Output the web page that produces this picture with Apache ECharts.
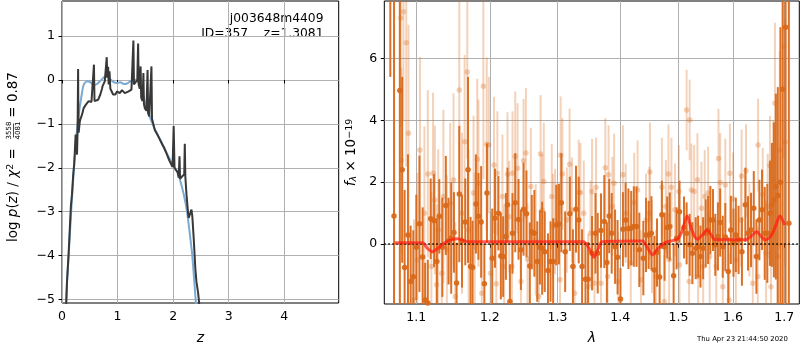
<!DOCTYPE html>
<html><head><meta charset="utf-8">
<script src="https://cdn.jsdelivr.net/npm/echarts@6/dist/echarts.min.js"></script>
<style>html,body{margin:0;padding:0;background:#fff}#c{width:800px;height:350px}</style>
</head><body><div id="c"></div>
<script>
// ---------- Left panel: log p(z) ----------
const blueZ = [0.065,0.09,0.12,0.16,0.20,0.25,0.30,0.35,0.39,0.45,0.51,0.57,0.63,0.69,0.77,0.81,0.87,0.93,0.99,1.05,1.11,1.17,1.23,1.30,1.36,1.42,1.48,1.54,1.60,1.66,1.72,1.78,1.84,1.90,1.96,2.02,2.08,2.13,2.19,2.25,2.30,2.345,2.405,2.43];
const blueLogP = [-5.4,-4.6,-4.0,-3.1,-2.3,-1.4,-0.8,-0.37,-0.11,-0.03,-0.05,-0.12,-0.09,-0.02,0.08,0.10,0.02,-0.05,-0.07,-0.05,-0.09,-0.08,-0.03,0.01,-0.03,-0.18,-0.45,-0.71,-0.90,-1.09,-1.24,-1.39,-1.55,-1.70,-1.85,-1.98,-2.10,-2.30,-2.6,-3.0,-3.5,-4.0,-5.0,-5.4];
const grayZ = [0.07,0.09,0.12,0.14,0.16,0.18,0.20,0.22,0.23,0.245,0.26,0.27,0.28,0.29,0.295,0.30,0.32,0.33,0.36,0.39,0.43,0.48,0.53,0.565,0.575,0.585,0.62,0.65,0.69,0.72,0.73,0.75,0.77,0.79,0.805,0.815,0.83,0.84,0.855,0.87,0.89,0.92,0.96,0.99,1.02,1.04,1.08,1.11,1.13,1.16,1.20,1.25,1.27,1.285,1.295,1.31,1.33,1.355,1.37,1.38,1.40,1.415,1.425,1.45,1.465,1.475,1.49,1.52,1.54,1.55,1.57,1.60,1.61,1.62,1.64,1.67,1.72,1.75,1.81,1.84,1.87,1.93,1.99,2.01,2.025,2.05,2.08,2.10,2.115,2.125,2.14,2.16,2.20,2.21,2.22,2.24,2.27,2.28,2.31,2.33,2.345,2.37,2.40,2.42,2.435,2.45,2.47,2.50];
const grayLogP = [-5.3,-4.6,-3.93,-3.4,-2.87,-2.6,-2.19,-1.9,-1.66,-1.24,-1.3,-1.7,-1.2,0.25,-1.0,-1.2,-0.95,-0.9,-0.79,-0.64,-0.56,-0.48,-0.5,-0.48,0.35,-0.48,-0.47,-0.45,-0.33,-0.2,-0.14,-0.1,-0.03,0.0,0.52,0.05,0.3,-0.1,0.2,-0.2,-0.25,-0.33,-0.33,-0.26,-0.3,-0.3,-0.23,-0.2,-0.3,-0.3,-0.26,-0.22,-0.2,0.9,-0.1,-0.14,-0.08,0.0,0.83,-0.1,-0.2,0.31,-0.4,-0.48,0.16,-0.55,-0.64,-0.7,0.23,-0.75,-0.83,-0.85,0.31,-0.88,-0.9,-1.14,-1.25,-1.33,-1.48,-1.55,-1.64,-1.83,-1.98,-1.05,-2.0,-2.05,-2.1,-2.22,-1.74,-2.25,-2.27,-2.2,-2.15,-1.45,-2.2,-2.6,-3.05,-3.14,-3.1,-2.95,-3.1,-3.6,-4.3,-4.6,-4.62,-4.85,-5.1,-5.3];
const leftXTicks = [0,1,2,3,4];
const leftYTicks = [-5,-4,-3,-2,-1,0,1];

// ---------- Right panel: spectrum ----------
const darkLam = [1.0667,1.0714,1.0788,1.0818,1.0849,1.0892,1.0927,1.0961,1.1000,1.1041,1.1083,1.1116,1.1151,1.1189,1.1234,1.1271,1.1303,1.1344,1.1391,1.1427,1.1464,1.1501,1.1537,1.1574,1.1611,1.1656,1.1694,1.1729,1.1757,1.1804,1.1839,1.1877,1.1922,1.1959,
 1.2034,1.2073,1.2122,1.2157,1.2190,1.2230,1.2253,1.2288,1.2326,1.2366,1.2414,1.2449,1.2488,1.2531,1.2581,1.2610,1.2649,1.2692,1.2732,1.2766,1.2805,1.2854,1.2893,1.2933,1.2981,1.3022,1.3059,1.3118,1.3191,1.3239,1.3287,1.3330,1.3383,1.3437,1.3479,1.3542,
 1.3597,1.3633,1.3686,1.3740,1.3782,1.3820,1.3861,1.3916,1.3957,1.4005,1.4046,1.4091,1.4137,1.4184,1.4228,1.4274,1.4321,1.4389,1.4434,1.4480,1.4527,1.4578,1.4623,1.4669,1.4708,1.4755,1.4801,1.4846,1.4914,1.4966,1.5018,1.5098,1.5145,1.5200,1.5249,1.5309,
 1.5353,1.5395,1.5444,1.5491,1.5535,1.5576,1.5625,1.5667,1.5716,1.5758,1.5807,1.5854,1.5909,1.5958,1.6008,1.6053,1.6105,1.6169,1.6234,1.6286,1.6344,1.6397,1.6448,1.6506,1.6558,1.6611,1.6662,1.6714,1.6753,1.6792,1.6831,1.6870,1.6922,1.6967,1.7026,1.7092];
const darkFlux = [9.5,0.91,4.96,2.4,-0.75,0.3,-1.2,-1.05,-0.1,0.66,-0.41,-1.8,-1.9,0.82,0.76,-0.56,0.9,-0.1,1.25,0.1,0.2,0.38,-1.25,1.62,0.1,0.72,2.4,-0.72,-0.74,1.3,0.9,0.72,-1.28,1.65,
 -0.45,0.84,1.0,-0.38,-0.4,0.25,1.27,-1.85,0.35,1.34,0.8,-0.18,1.13,0.98,-0.7,0.39,0.35,-0.56,-0.1,-0.13,-0.24,-0.85,-0.56,-0.56,0.62,0.65,1.34,-0.24,0.98,-0.72,1.13,0.78,-0.72,-1.13,-1.13,-0.29,
 0.35,-0.29,0.44,0.73,-0.59,0.91,0.35,-0.08,-0.42,-1.77,0.48,0.78,0.5,0.52,0.57,0.57,-0.18,-0.45,0.3,0.3,0.35,-0.83,-0.27,-1.06,0.95,-0.08,0.54,0.57,-1.02,0.19,1.05,0.54,0.35,-0.02,-0.29,-0.13,
 -0.08,-0.4,-0.13,0.35,0.46,0.78,0.78,-0.02,0.25,0.7,-0.08,0.23,-0.88,0.46,0.05,0.3,0.14,-0.24,1.27,0.35,0.46,1.16,-0.4,0.78,1.11,0.35,0.35,1.0,1.27,1.43,1.86,1.57,2.0,5.0,7.0,0.68];
const darkErr = [4.1,9,7,3.0,2.5,2.6,1.8,1.5,1.7,2.2,1.6,1.2,1.4,1.3,1.5,1.4,1.2,1.6,1.6,1.4,1.8,1.3,1.3,2.2,1.5,1.4,3.0,1.6,1.5,1.6,1.4,1.8,1.3,1.6,
 1.6,1.6,1.2,1.4,1.3,1.4,1.2,1.2,1.3,1.6,1.3,1.3,1.5,1.4,1.4,1.2,1.4,1.3,1.2,1.5,1.3,1.2,1.3,1.4,1.3,1.3,1.6,1.3,1.2,1.2,1.4,1.4,1.2,1.2,1.2,1.2,
 1.3,1.3,1.2,1.5,1.3,1.2,1.3,1.2,1.2,1.0,1.2,1.2,1.3,1.2,1.3,1.3,1.2,1.2,1.2,1.1,1.2,1.1,1.1,1.1,1.1,1.1,1.0,1.1,1.0,1.0,1.0,1.0,1.0,1.0,1.0,1.0,
 1.0,1.0,1.0,1.1,1.1,1.1,1.0,1.0,1.1,1.1,1.0,1.1,1.1,1.1,1.1,1.2,1.1,1.1,1.2,1.2,1.2,1.2,1.2,1.3,1.3,1.5,1.6,1.7,2.0,2.5,3.0,3.5,5,8,12,12];

const lightLam = [1.0801,1.0808,1.0834,1.0870,1.0899,1.0970,1.1014,1.1047,1.1106,1.1151,1.1198,1.1220,1.1244,1.1267,1.1289,1.1336,1.1358,1.1405,1.1450,1.1495,1.1519,1.1574,1.1611,1.1647,1.1684,1.1702,1.1771,1.1787,1.1822,1.1839,1.1886,1.1908,1.1955,
 1.1986,1.2010,1.2059,1.2092,1.2107,1.2180,1.2205,1.2253,1.2278,1.2318,1.2326,1.2366,1.2400,1.2449,1.2488,1.2523,1.2546,1.2596,1.2669,1.2717,1.2742,1.2766,1.2791,1.2912,1.2930,1.2962,1.3038,1.3048,1.3075,1.3144,1.3187,1.3223,1.3266,1.3330,1.3357,1.3410,1.3479,1.3517,1.3542,
 1.3581,1.3606,1.3686,1.3756,1.3793,1.3809,1.3872,1.3900,1.3968,1.4046,1.4091,1.4177,1.4235,1.4292,1.4348,1.4434,1.4492,1.4502,1.4537,1.4605,1.4708,1.4749,1.4777,1.4823,1.4835,1.4875,1.4938,1.5007,1.5018,1.5145,1.5189,1.5200,1.5231,1.5280,1.5340,
 1.5353,1.5413,1.5444,1.5473,1.5535,1.5564,1.5685,1.5727,1.5758,1.5807,1.5854,1.5927,1.5940,1.6000,1.6053,1.6150,1.6163,1.6247,1.6311,1.6378,1.6475,1.6481,1.6572,1.6637,1.6669,1.6714,1.6734,1.6779,1.6812,1.6864,1.6909,1.6992,1.7016];
const lightFlux = [7.3,2.7,7.5,6.5,3.58,-1.8,-0.5,3.04,1.0,2.27,-0.72,2.29,1.43,-1.31,0.46,-0.94,1.54,-0.18,1.32,2.07,-1.69,4.98,1.0,3.31,5.56,0.46,1.65,-0.08,2.74,1.97,-1.58,5.1,3.23,
 3.2,-0.94,2.56,-1.28,2.29,1.54,-0.72,2.26,0.89,-0.72,2.29,2.83,2.45,-1.2,2.69,2.94,-0.48,1.86,0.14,-1.69,2.91,1.1,2.02,1.54,0.57,0.73,-1.15,2.87,2.27,0.78,2.58,1.1,-1.58,1.67,1.67,1.0,-1.37,0.35,1.7,
 -1.26,1.84,-1.26,2.47,-1.04,2.24,1.22,1.97,-1.2,2.24,1.0,-0.61,1.35,1.75,-1.15,0.78,1.0,2.33,-0.08,-1.04,1.84,-1.85,1.22,2.27,-0.5,1.84,1.11,1.7,-0.67,4.33,-1.2,4.01,1.75,1.7,2.08,
 -1.04,1.16,-0.72,1.54,1.65,-0.4,-0.72,2.77,1.99,-1.37,1.91,-1.8,2.29,1.46,-0.5,0.78,2.2,2.37,0.46,-1.26,-1.04,3.2,1.61,-0.29,1.22,2.54,-1.37,2.08,4.55,-0.4,3.04,6.38,3.3];
const lightErr = [3.5,3.0,3.5,4.0,3.5,2.6,2.8,3.0,2.8,2.7,2.4,2.6,2.4,2.6,2.6,2.4,2.8,2.4,2.6,2.8,2.4,3.0,2.6,2.8,2.8,2.6,2.5,2.4,2.6,2.7,2.4,3.0,2.8,
 2.2,2.0,2.2,2.0,2.0,2.0,2.0,2.0,1.8,2.0,2.0,2.1,2.1,1.9,2.0,2.1,1.8,1.9,1.8,1.8,1.9,1.8,1.9,1.7,1.7,1.7,1.7,1.9,1.8,1.7,1.8,1.7,1.7,1.7,1.6,1.7,1.7,1.7,1.7,
 1.7,1.6,1.6,1.6,1.6,1.6,1.6,1.6,1.6,1.6,1.6,1.6,1.6,1.6,1.6,1.5,1.5,1.6,1.5,1.5,1.6,1.5,1.5,1.6,1.5,1.6,1.5,1.5,1.5,1.3,1.5,1.3,1.5,1.5,1.5,
 1.5,1.5,1.5,1.5,1.5,1.5,1.5,1.6,1.6,1.5,1.5,1.5,1.6,1.5,1.5,1.5,1.5,1.5,1.5,1.5,1.6,1.5,1.5,1.7,1.7,1.6,1.9,1.9,2.6,2.2,3.2,3.6,4.0];

const modelLam = [1.0723,1.108,1.114,1.121,1.128,1.136,1.146,1.1556,1.163,1.1694,1.34,1.35,1.3574,1.364,1.3708,1.4372,1.446,1.4544,1.462,1.4772,1.4972,1.506,1.5153,1.524,1.5335,1.543,1.5516,1.559,1.5667,1.6228,1.634,1.6455,1.654,1.6617,1.6747,1.684,1.6909,1.7006];
const modelFlux = [0.05,0.05,-0.12,-0.24,-0.14,0.02,0.14,0.18,0.12,0.08,0.08,-0.15,-0.42,-0.15,0.08,0.1,-0.12,-0.34,-0.18,0.06,0.16,0.4,0.91,0.45,0.16,0.3,0.46,0.3,0.14,0.14,0.25,0.4,0.25,0.14,0.3,0.65,0.91,0.62];
const rightXTicks = [1.1,1.2,1.3,1.4,1.5,1.6,1.7];
const rightYTicks = [0,2,4,6];

// ---------- build ----------
const FF = 'DejaVu Sans';
const ORANGE = '#d9691a';
const GRID = '#b0b0b0';

function errBars(lam, flux, err, opacity, z) {
  return {
    type: 'custom', xAxisIndex: 1, yAxisIndex: 1, clip: true, silent: true, z: z,
    data: lam.map((l, i) => [Math.log(l), flux[i] - err[i], flux[i] + err[i]]),
    encode: { x: 0, y: [1, 2] },
    renderItem: function (params, api) {
      const p1 = api.coord([api.value(0), api.value(1)]);
      const p2 = api.coord([api.value(0), api.value(2)]);
      return { type: 'line', shape: { x1: p1[0], y1: p1[1], x2: p2[0], y2: p2[1] },
               style: { stroke: ORANGE, lineWidth: 2, opacity: opacity } };
    }
  };
}
function dots(lam, flux, opacity, z) {
  return {
    type: 'scatter', xAxisIndex: 1, yAxisIndex: 1, clip: true, silent: true, z: z,
    symbolSize: 5.5,
    itemStyle: { color: ORANGE, opacity: opacity },
    data: lam.map((l, i) => [Math.log(l), flux[i]])
  };
}
const tickStyle = (vals) => ({ show: true, inside: false, length: 3.5, lineStyle: { color: '#000', width: 1 }, customValues: vals });
const labelStyle = (vals, fmt) => ({ customValues: vals, margin: 7, fontSize: 12.5, color: '#000', fontFamily: FF, formatter: fmt });
const split = { show: true, lineStyle: { color: GRID, width: 1 } };

const option = {
  animation: false,
  backgroundColor: '#fff',
  grid: [
    { left: 62, top: 1, width: 276.7, height: 303, show: true, borderColor: '#000', borderWidth: 1, containLabel: false },
    { left: 384.3, top: 1, width: 415, height: 303, show: true, borderColor: '#000', borderWidth: 1, containLabel: false }
  ],
  xAxis: [
    { type: 'value', gridIndex: 0, min: 0, max: 4.98,
      name: 'z', nameLocation: 'middle', nameGap: 28,
      nameTextStyle: { fontStyle: 'italic', fontSize: 14, fontFamily: FF, color: '#000' },
      axisLine: { show: false }, axisTick: tickStyle(leftXTicks),
      axisLabel: labelStyle(leftXTicks, v => String(v)), splitLine: split },
    { type: 'value', gridIndex: 1, min: 0.05746, max: 0.54837,
      name: 'λ', nameLocation: 'middle', nameGap: 27,
      nameTextStyle: { fontStyle: 'italic', fontSize: 14, fontFamily: FF, color: '#000' },
      axisLine: { show: false }, axisTick: tickStyle(rightXTicks.map(Math.log)),
      axisLabel: labelStyle(rightXTicks.map(Math.log), v => Math.exp(v).toFixed(1)), splitLine: split }
  ],
  yAxis: [
    { type: 'value', gridIndex: 0, min: -5.08, max: 1.8,
      axisLine: { show: false }, axisTick: tickStyle(leftYTicks),
      axisLabel: labelStyle(leftYTicks, v => (v < 0 ? '\u2212' + Math.abs(v) : String(v))), splitLine: split },
    { type: 'value', gridIndex: 1, min: -1.93, max: 7.85,
      name: '{i|f}{sub|λ}{n| × 10}{sup|\u221219}', nameLocation: 'middle', nameGap: 25, nameRotate: 90,
      nameTextStyle: { fontSize: 13.5, fontFamily: FF, color: '#000',
        rich: { i: { fontStyle: 'italic', fontSize: 13.5, fontFamily: FF },
                sub: { fontStyle: 'italic', fontSize: 9.5, fontFamily: FF, verticalAlign: 'bottom' },
                n: { fontSize: 13.5, fontFamily: FF },
                sup: { fontSize: 9.5, fontFamily: FF, verticalAlign: 'top' } } },
      axisLine: { show: false }, axisTick: tickStyle(rightYTicks),
      axisLabel: labelStyle(rightYTicks, v => String(v)), splitLine: split }
  ],
  series: [
    { type: 'line', xAxisIndex: 0, yAxisIndex: 0, showSymbol: false, smooth: 0.25, clip: true, silent: true,
      lineStyle: { color: '#7aaad4', width: 2 }, data: blueZ.map((z, i) => [z, blueLogP[i]]), z: 3 },
    { type: 'line', xAxisIndex: 0, yAxisIndex: 0, showSymbol: false, clip: true, silent: true,
      lineStyle: { color: '#383838', width: 2 }, data: grayZ.map((z, i) => [z, grayLogP[i]]), z: 4 },
    errBars(lightLam, lightFlux, lightErr, 0.3, 2),
    dots(lightLam, lightFlux, 0.3, 2),
    errBars(darkLam, darkFlux, darkErr, 0.95, 3),
    dots(darkLam, darkFlux, 0.95, 3),
    { type: 'line', xAxisIndex: 1, yAxisIndex: 1, showSymbol: false, smooth: 0.3, clip: true, silent: true, z: 5,
      lineStyle: { color: '#ff1a10', width: 3, opacity: 0.7 },
      data: modelLam.map((l, i) => [Math.log(l), modelFlux[i]]),
      markLine: { silent: true, symbol: 'none', label: { show: false },
        lineStyle: { color: '#000', width: 1.5, type: [1.5, 2.5], opacity: 1 },
        data: [{ yAxis: 0 }] } }
  ],
  graphic: [
    { type: 'text', right: 800 - 323.5, top: 13, silent: true,
      style: { text: 'j003648m4409', fontSize: 12.3, fontFamily: FF, fill: '#000' } },
    { type: 'text', right: 800 - 323.5, top: 28, silent: true,
      style: { text: 'ID=357    z=1.3081', fontSize: 12.3, fontFamily: FF, fill: '#000' } },
    { type: 'text', left: 697, top: 336, silent: true,
      style: { text: 'Thu Apr 23 21:44:50 2020', fontSize: 6.9, fontFamily: FF, fill: '#000' } },
    { type: 'group', x: 13, y: 157, rotation: Math.PI / 2, silent: true,
      children: [
        { type: 'text', x: -85, y: 0,
          style: { text: 'log {i|p}({i|z}) / {i|χ}{s|2} = ', fontSize: 13.5, fontFamily: FF, fill: '#000',
                   align: 'left', verticalAlign: 'middle', textAlign: 'left', textVerticalAlign: 'middle',
                   rich: { i: { fontStyle: 'italic', fontSize: 13.5, fontFamily: FF },
                           s: { fontSize: 9.5, fontFamily: FF, verticalAlign: 'top' } } } },
        { type: 'text', x: 26.5, y: -4,
          style: { text: '3558', fontSize: 7, fontFamily: FF, fill: '#000', align: 'center', verticalAlign: 'middle', textAlign: 'center', textVerticalAlign: 'middle' } },
        { type: 'line', shape: { x1: 19.5, y1: 0.5, x2: 33.5, y2: 0.5 }, style: { stroke: '#000', lineWidth: 0.7 } },
        { type: 'text', x: 26.5, y: 4.8,
          style: { text: '4081', fontSize: 7, fontFamily: FF, fill: '#000', align: 'center', verticalAlign: 'middle', textAlign: 'center', textVerticalAlign: 'middle' } },
        { type: 'text', x: 35, y: 0,
          style: { text: ' = 0.87', fontSize: 13.5, fontFamily: FF, fill: '#000', align: 'left', verticalAlign: 'middle', textAlign: 'left', textVerticalAlign: 'middle' } }
      ] }
  ]
};
const chart = echarts.init(document.getElementById('c'), null, { renderer: 'canvas' });
chart.setOption(option);
</script>
</body></html>
